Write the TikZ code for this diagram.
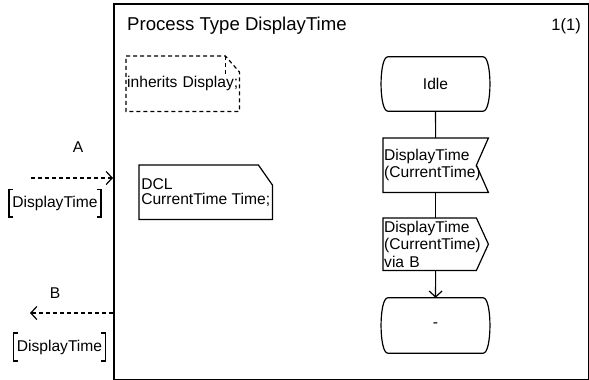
\documentclass[tikz,border=0pt]{standalone}
\usepackage{fontspec}
\setmainfont{Liberation Sans}
\usetikzlibrary{arrows.meta,positioning}
\tikzset{
  sdl/.style={line width=1.2pt},
  sig/.style={sdl, dash pattern=on 4pt off 3pt},
  vtip/.style={-{Straight Barb[length=6pt,width=13pt]}},
  txt/.style={font=\fontsize{15.6}{17.5}\selectfont, inner sep=1pt},
}
\begin{document}
\begin{tikzpicture}[x=1pt,y=-1pt]
\useasboundingbox (0,0) rectangle (589,380);
% 外框与标题
\node[draw, line width=2pt, minimum width=475pt, minimum height=376pt,
      anchor=north west, inner sep=0pt] (frm) at (113,3) {};
\node[txt, font=\fontsize{18.6}{20}\selectfont, anchor=base west] (ttl) at (126,30) {Process Type DisplayTime};
\node[txt, font=\fontsize{16.5}{20}\selectfont, anchor=base east] (pg) at (582,30) {1(1)};
% 文本符号 (虚线)
\node[txt, anchor=north west, minimum height=55pt, text width=111pt, align=left] (inh) at (126,56) {inherits Display;};
\draw[sig] (inh.north west) -- ([xshift=-14pt]inh.north east) -- ([yshift=-16pt]inh.north east)
  -- (inh.south east) -- (inh.south west) -- cycle;
\draw[sig] ([xshift=-14pt]inh.north east) -- ++(0,19);
% 注释 DCL
\node[txt, font=\fontsize{15.6}{15}\selectfont, anchor=north west, minimum height=54pt, minimum width=133pt,
      align=left] (dcl) at (139,165) {DCL\\CurrentTime Time;};
\draw[sdl] (dcl.north west) -- ([xshift=-14pt]dcl.north east) -- ([yshift=-20pt]dcl.north east)
  -- (dcl.south east) -- (dcl.south west) -- cycle;
% 状态
\node[txt, minimum width=95pt, minimum height=54pt] (idle) at (435.5,84) {Idle};
\node[txt, minimum width=95pt, minimum height=55pt] (nxt) at (435.5,325.5) {-};
\foreach \n in {idle,nxt}
  \draw[sdl] (\n.north west) -- (\n.north east) .. controls +(9,0) and +(9,0) .. (\n.south east)
    -- (\n.south west) .. controls +(-9,0) and +(-9,0) .. (\n.north west);
% 输入与输出
\node[txt, anchor=north west, minimum height=54pt, text width=103pt, align=left] (inp) at (383,138) {DisplayTime\\(CurrentTime)};
\draw[sdl] (inp.north west) -- (inp.north east) -- ([xshift=-12pt]inp.east) -- (inp.south east)
  -- (inp.south west) -- cycle;
\node[txt, anchor=north west, minimum height=52pt, text width=103pt, align=left] (out) at (383,218) {DisplayTime\\(CurrentTime)\\via B};
\draw[sdl] (out.north west) -- ([xshift=-12pt]out.north east) -- (out.east)
  -- ([xshift=-12pt]out.south east) -- (out.south west) -- cycle;
% 连线
\draw[sdl] (idle) -- (inp);
\draw[sdl] (inp) -- (out);
\draw[sdl, vtip] (out) -- (nxt);
% 信号路由 A, B
\coordinate (aEnd) at (31,178);
\coordinate (bEnd) at (30,313);
\draw[sig, vtip] (aEnd) -- (aEnd -| frm.west);
\draw[sig, vtip] (bEnd -| frm.west) -- (bEnd);
\node[txt] (labA) at (78,147) {A};
\node[txt] (labB) at (55,293) {B};
\node[txt, inner xsep=3pt, minimum height=27pt] (lstA) at (55,203) {DisplayTime};
\node[txt, inner xsep=3pt, minimum height=28pt] (lstB) at (59.5,347) {DisplayTime};
\foreach \s in {lstA,lstB}
  \draw[line width=1.6pt] ([xshift=4pt]\s.north west) -- (\s.north west) -- (\s.south west) -- ([xshift=4pt]\s.south west)
    ([xshift=-4pt]\s.north east) -- (\s.north east) -- (\s.south east) -- ([xshift=-4pt]\s.south east);
\end{tikzpicture}
\end{document}
